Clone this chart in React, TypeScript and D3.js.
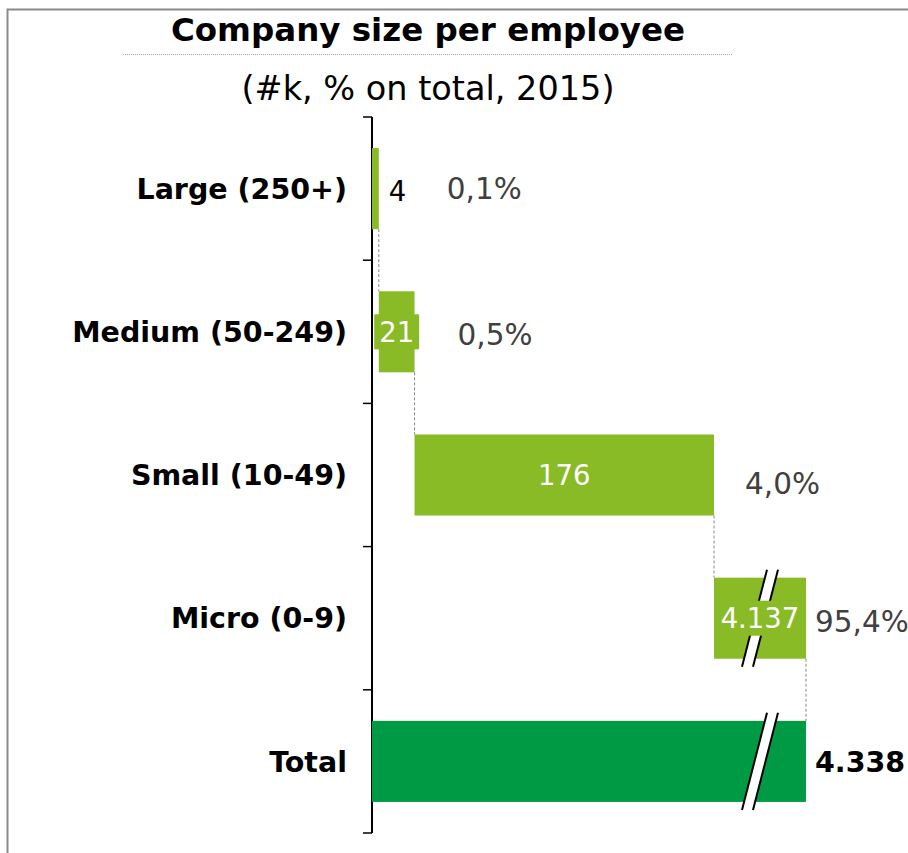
import React from "react";
import * as d3 from "d3";

// ---- data ----
const categories = ["Large (250+)", "Medium (50-249)", "Small (10-49)", "Micro (0-9)", "Total"];
const values = [4, 21, 176, 4137]; // #k companies per size class
const totalValue = 4338;
const valueLabels = ["4", "21", "176", "4.137", "4.338"];
const pctLabels = ["0,1%", "0,5%", "4,0%", "95,4%"];
const breakFrom = 201; // axis break starts after the cumulative of the first three classes

// ---- layout ----
const W = 908;
const H = 853;
const AXIS_X = 372;
const BREAK_PX = 714;
const END_PX = 806;
const Y_TOP = 117;
const Y_BOT = 833;
const PCT_DX = [68, 43, 31, 9];
const PCT_DY = [0, 3, 8, 3];
const LIGHT = "#89bb27";
const DARK = "#009a44";
const FONT = "'DejaVu Sans', Verdana, sans-serif";

export default function App() {
  const x = d3.scaleLinear().domain([0, breakFrom, totalValue]).range([AXIS_X, BREAK_PX, END_PX]);
  const y = d3
    .scaleBand<string>()
    .domain(categories)
    .range([Y_TOP, Y_BOT])
    .paddingInner(0.434)
    .paddingOuter(0.217);
  const bw = y.bandwidth();
  const step = y.step();

  const starts: number[] = [];
  let acc = 0;
  values.forEach((v) => {
    starts.push(acc);
    acc += v;
  });
  const bars = categories.map((c, i) => {
    const isTotal = i === values.length;
    const s = isTotal ? 0 : starts[i];
    const e = isTotal ? totalValue : starts[i] + values[i];
    return { c, i, s, e, isTotal, y0: y(c)!, x0: x(s), x1: x(e) };
  });

  const tickYs = categories.map((c) => y(c)! - (step - bw) / 2).concat([Y_BOT]);
  const breakX = (x(breakFrom) + x(totalValue)) / 2;

  const breakShape = (yc: number) => {
    const h = bw + 16;
    const top = yc - h / 2;
    const bot = yc + h / 2;
    const slope = 25 / 97;
    const dxTop = (h / 2) * slope;
    const wgap = 11;
    const p1 = [breakX + dxTop - wgap / 2, top];
    const p2 = [breakX + dxTop + wgap / 2, top];
    const p3 = [breakX - dxTop + wgap / 2, bot];
    const p4 = [breakX - dxTop - wgap / 2, bot];
    return { p1, p2, p3, p4 };
  };

  const valFs = 27.5;
  const textW = (s: string, fs: number) =>
    s.split("").reduce((a, ch) => a + (ch === "." || ch === "," ? 0.32 : 0.636), 0) * fs;

  return (
    <svg
      width={W}
      height={H}
      style={{ position: "absolute", left: 0, top: 0, background: "#fff" }}
      fontFamily={FONT}
    >
      <rect x={7.5} y={9.5} width={1000} height={1000} fill="none" stroke="#8a8a8a" strokeWidth={2} />
      <text x={428} y={41} textAnchor="middle" fontSize={32.5} fontWeight="bold" fill="#000">
        Company size per employee
      </text>
      <line x1={123} x2={732} y1={54.5} y2={54.5} stroke="#aaa" strokeWidth={1} strokeDasharray="1,1" />
      <text x={428} y={100} textAnchor="middle" fontSize={33.5} fill="#000">
        (#k, % on total, 2015)
      </text>

      {/* axis */}
      <line x1={AXIS_X} x2={AXIS_X} y1={Y_TOP} y2={Y_BOT} stroke="#000" strokeWidth={2} />
      {tickYs.map((t, i) => (
        <line key={i} x1={363} x2={AXIS_X} y1={t} y2={t} stroke="#000" strokeWidth={1.5} />
      ))}
      {categories.map((c) => (
        <text
          key={c}
          x={347}
          y={y(c)! + bw / 2}
          dy="0.36em"
          textAnchor="end"
          fontSize={28.5}
          fontWeight="bold"
          fill="#000"
        >
          {c}
        </text>
      ))}

      {/* connectors */}
      {bars.slice(0, -1).map((b) => {
        const next = bars[b.i + 1];
        return (
          <line
            key={"c" + b.i}
            x1={b.x1}
            x2={b.x1}
            y1={b.y0 + bw}
            y2={next.y0}
            stroke="#888"
            strokeWidth={1}
            strokeDasharray="3,2"
          />
        );
      })}

      {/* bars */}
      {bars.map((b) => (
        <rect
          key={"b" + b.i}
          x={b.x0}
          y={b.y0}
          width={b.x1 - b.x0}
          height={bw}
          fill={b.isTotal ? DARK : LIGHT}
        />
      ))}

      {/* breaks */}
      {bars
        .filter((b) => b.e > breakFrom && b.s <= breakFrom)
        .map((b) => {
          const { p1, p2, p3, p4 } = breakShape(b.y0 + bw / 2);
          return (
            <g key={"br" + b.i}>
              <polygon points={[p1, p2, p3, p4].map((p) => p.join(",")).join(" ")} fill="#fff" />
              <line x1={p1[0]} y1={p1[1]} x2={p4[0]} y2={p4[1]} stroke="#000" strokeWidth={2} />
              <line x1={p2[0]} y1={p2[1]} x2={p3[0]} y2={p3[1]} stroke="#000" strokeWidth={2} />
            </g>
          );
        })}

      {/* value labels */}
      {bars.map((b) => {
        const label = valueLabels[b.i];
        const yc = b.y0 + bw / 2;
        if (b.isTotal) {
          return (
            <text key={"v" + b.i} x={b.x1 + 9} y={yc} dy="0.36em" fontSize={28.5} fontWeight="bold" fill="#000">
              {label}
            </text>
          );
        }
        const tw = textW(label, valFs);
        const barW = b.x1 - b.x0;
        if (barW < 15) {
          return (
            <text key={"v" + b.i} x={b.x1 + 10} y={yc + 2} dy="0.36em" fontSize={valFs} fill="#000">
              {label}
            </text>
          );
        }
        const cx = (b.x0 + b.x1) / 2;
        const boxW = Math.min(tw + 10, barW + 10);
        const boxH = 35;
        return (
          <g key={"v" + b.i}>
            <rect x={cx - boxW / 2} y={yc - boxH / 2} width={boxW} height={boxH} fill={LIGHT} />
            <text x={cx} y={yc} dy="0.36em" textAnchor="middle" fontSize={valFs} fill="#fff">
              {label}
            </text>
          </g>
        );
      })}

      {/* percentage labels */}
      {pctLabels.map((p, i) => (
        <text
          key={"p" + i}
          x={bars[i].x1 + PCT_DX[i]}
          y={bars[i].y0 + bw / 2 + PCT_DY[i]}
          dy="0.36em"
          fontSize={29.5}
          fill="#404040"
        >
          {p}
        </text>
      ))}
    </svg>
  );
}
